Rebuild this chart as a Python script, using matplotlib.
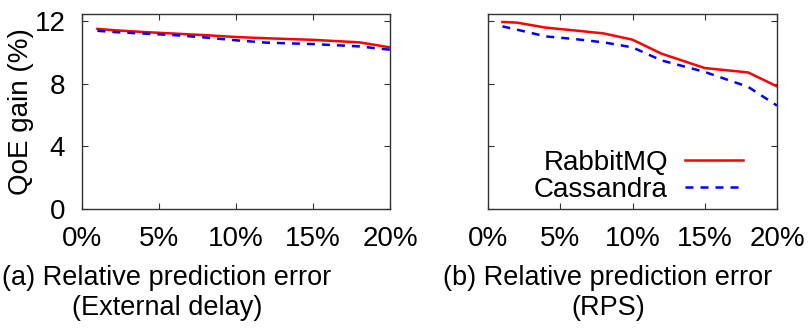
import matplotlib
matplotlib.use("Agg")
import matplotlib.pyplot as plt

plt.rcParams['font.family'] = ['Liberation Sans', 'DejaVu Sans']

# relative prediction error (%)
err = [1, 2, 4, 6, 8, 10, 12, 15, 18, 20]

# (a) external delay
ext_rabbit = [11.50, 11.42, 11.30, 11.20, 11.10, 10.98, 10.90, 10.80, 10.64, 10.32]
ext_cassandra = [11.38, 11.30, 11.20, 11.10, 10.95, 10.77, 10.62, 10.53, 10.38, 10.17]

# (b) RPS
rps_rabbit = [11.94, 11.90, 11.58, 11.40, 11.21, 10.81, 9.92, 9.00, 8.72, 7.83]
rps_cassandra = [11.66, 11.45, 11.02, 10.85, 10.64, 10.32, 9.49, 8.75, 7.80, 6.60]

xticks = [0, 5, 10, 15, 20]
xticklabels = ['0%', '5%', '10%', '15%', '20%']
yticks = [0, 4, 8, 12]

fig = plt.figure(figsize=(8.11, 3.29), dpi=100)
ax1 = fig.add_axes([82 / 811, 1 - 209 / 329, 308 / 811, 195 / 329])
ax2 = fig.add_axes([488 / 811, 1 - 209 / 329, 289 / 811, 195 / 329])

for ax, r, c in [(ax1, ext_rabbit, ext_cassandra), (ax2, rps_rabbit, rps_cassandra)]:
    ax.plot(err, r, color='#ff0000', lw=1.8, label='RabbitMQ')
    ax.plot(err, c, color='#0000ff', lw=1.8, dashes=(3.2, 2.8), label='Cassandra')
    ax.set_xlim(0, 20)
    ax.set_ylim(0, 12.45)
    ax.set_xticks(xticks)
    ax.set_xticklabels(xticklabels)
    ax.set_yticks(yticks)
    ax.tick_params(direction='in', top=True, right=True, length=4, width=0.8,
                   labelsize=20, color='#333333')
    ax.tick_params(axis='x', pad=12)
    ax.tick_params(axis='y', pad=12)
    for s in ax.spines.values():
        s.set_color('#333333')
        s.set_linewidth(1.0)

ax2.set_yticklabels([])
ax1.set_ylabel('QoE gain (%)', fontsize=20, labelpad=0)

ax2.legend(loc='lower right', bbox_to_anchor=(0.93, -0.04), frameon=False,
           fontsize=20, markerfirst=False, handlelength=2.1, handletextpad=0.6,
           labelspacing=0.05, borderaxespad=0.1)

fig.text(167 / 811, 1 - 293 / 329, '(a) Relative prediction error\n(External delay)',
         ha='center', va='center', fontsize=19.5, linespacing=1.2)
fig.text(608 / 811, 1 - 293 / 329, '(b) Relative prediction error\n(RPS)',
         ha='center', va='center', fontsize=19.5, linespacing=1.2)

fig.savefig('out.png', dpi=100)
